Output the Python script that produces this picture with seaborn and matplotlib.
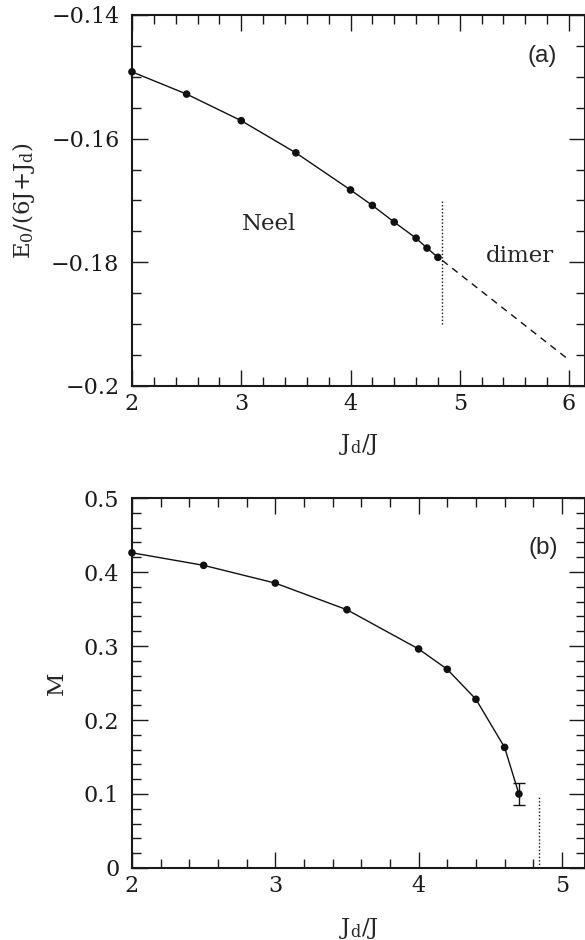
import pandas as pd
import seaborn as sns
import matplotlib.pyplot as plt

from matplotlib.ticker import MultipleLocator, FixedLocator, FixedFormatter


# panel (a): ground state energy, Neel side measured, dimer side extrapolated
jd_energy = [2.0, 2.5, 3.0, 3.5, 4.0, 4.2, 4.4, 4.6, 4.7, 4.8]
energy = [-0.1492, -0.1528, -0.1571, -0.1623, -0.1683,
          -0.1708, -0.1735, -0.1761, -0.1777, -0.1792]
jd_dimer = [4.84, 6.0]
energy_dimer = [-0.1797, -0.1958]

# panel (b): magnetization
jd_mag = [2.0, 2.5, 3.0, 3.5, 4.0, 4.2, 4.4, 4.6, 4.7]
mag = [0.426, 0.409, 0.385, 0.349, 0.296, 0.2685, 0.228, 0.163, 0.100]
mag_err = [0.0, 0.0, 0.0, 0.0, 0.0, 0.0, 0.0, 0.0, 0.015]

# critical coupling, dotted marker
jd_critical = 4.84
critical_a = (-0.190, -0.170)
critical_b = (0.0, 0.097)

a_yticks = [-0.2, -0.18, -0.16, -0.14]
a_ylabels = ['\u22120.2', '\u22120.18', '\u22120.16', '\u22120.14']
a_xticks = [2, 3, 4, 5, 6]
b_yticks = [0, 0.1, 0.2, 0.3, 0.4, 0.5]
b_ylabels = ['0', '0.1', '0.2', '0.3', '0.4', '0.5']
b_xticks = [2, 3, 4, 5]


def style_axes(ax, xticks, yticks, ylabels, xminor, yminor):
    ax.xaxis.set_major_locator(FixedLocator(xticks))
    ax.xaxis.set_major_formatter(FixedFormatter([str(t) for t in xticks]))
    ax.yaxis.set_major_locator(FixedLocator(yticks))
    ax.yaxis.set_major_formatter(FixedFormatter(ylabels))
    ax.xaxis.set_minor_locator(MultipleLocator(xminor))
    ax.yaxis.set_minor_locator(MultipleLocator(yminor))
    ax.tick_params(which='both', direction='in', top=True, right=True,
        width=1.0, colors='#1a1a1a', labelsize=16)
    ax.tick_params(which='major', length=11.5)
    ax.tick_params(which='minor', length=6.5)
    ax.tick_params(axis='x', which='major', pad=5)
    ax.tick_params(axis='y', which='major', pad=9)
    for spine in ax.spines.values():
        spine.set_linewidth(1.5)
        spine.set_color('#1a1a1a')
        spine.set_visible(True)


def main():
    sns.set_theme(style='ticks')
    plt.rcParams['font.family'] = ['DejaVu Serif']
    plt.rcParams['mathtext.fontset'] = 'dejavuserif'

    fig = plt.figure(figsize=(5.85, 9.4), dpi=100)
    ax_a = fig.add_axes([0.2256, 0.5894, 0.7744, 0.3947])
    ax_b = fig.add_axes([0.2256, 0.0766, 0.7744, 0.3936])

    # (a)
    df_a = pd.DataFrame({'jd': jd_energy, 'e': energy})
    df_d = pd.DataFrame({'jd': jd_dimer, 'e': energy_dimer})
    sns.lineplot(data=df_a, x='jd', y='e', ax=ax_a, color='#111111',
        linewidth=1.0, sort=True)
    sns.scatterplot(data=df_a, x='jd', y='e', ax=ax_a, color='#111111',
        s=30, edgecolor='none', zorder=3, clip_on=False)
    sns.lineplot(data=df_d, x='jd', y='e', ax=ax_a, color='#111111',
        linewidth=1.0, linestyle=(0, (5, 4)))
    ax_a.vlines(jd_critical, *critical_a, colors='#111111', linewidth=1.0,
        linestyles=(0, (1, 1.5)))

    ax_a.set_xlim(2, 6.146)
    ax_a.set_ylim(-0.2, -0.14)
    style_axes(ax_a, a_xticks, a_yticks, a_ylabels, 0.2, 0.005)
    ax_a.text(3.25, -0.1738, 'Neel', fontsize=16.5, ha='center', va='center')
    ax_a.text(5.55, -0.179, 'dimer', fontsize=16.5, ha='center', va='center')
    ax_a.text(5.75, -0.1467, '(a)', fontsize=17.5, ha='center', va='center',
        family='Liberation Sans')
    ax_a.set_xlabel(r'J$_\mathrm{d}$/J', fontsize=16.5)
    ax_a.set_ylabel(r'E$_0$/(6J+J$_\mathrm{d}$)', fontsize=16.5)
    ax_a.xaxis.set_label_coords(0.5, -0.125)
    ax_a.yaxis.set_label_coords(-0.21, 0.5)

    # (b)
    df_b = pd.DataFrame({'jd': jd_mag, 'm': mag, 'err': mag_err})
    sns.lineplot(data=df_b, x='jd', y='m', ax=ax_b, color='#111111',
        linewidth=1.0)
    sns.scatterplot(data=df_b, x='jd', y='m', ax=ax_b, color='#111111',
        s=30, edgecolor='none', zorder=3, clip_on=False)
    last = df_b[df_b['err'] > 0]
    ax_b.errorbar(last['jd'], last['m'], yerr=last['err'], fmt='none',
        ecolor='#111111', elinewidth=1.0, capsize=4, capthick=1.0)
    ax_b.vlines(jd_critical, *critical_b, colors='#111111', linewidth=1.0,
        linestyles=(0, (1, 1.5)))

    ax_b.set_xlim(2, 5.161)
    ax_b.set_ylim(0, 0.5)
    style_axes(ax_b, b_xticks, b_yticks, b_ylabels, 0.2, 0.02)
    ax_b.text(4.87, 0.432, '(b)', fontsize=17.5, ha='center', va='center',
        family='Liberation Sans')
    ax_b.set_xlabel(r'J$_\mathrm{d}$/J', fontsize=16.5)
    ax_b.set_ylabel('M', fontsize=16.5)
    ax_b.xaxis.set_label_coords(0.5, -0.13)
    ax_b.yaxis.set_label_coords(-0.141, 0.5)

    fig.savefig('out.png', dpi=100)
    plt.close(fig)


if __name__ == '__main__':
    main()
